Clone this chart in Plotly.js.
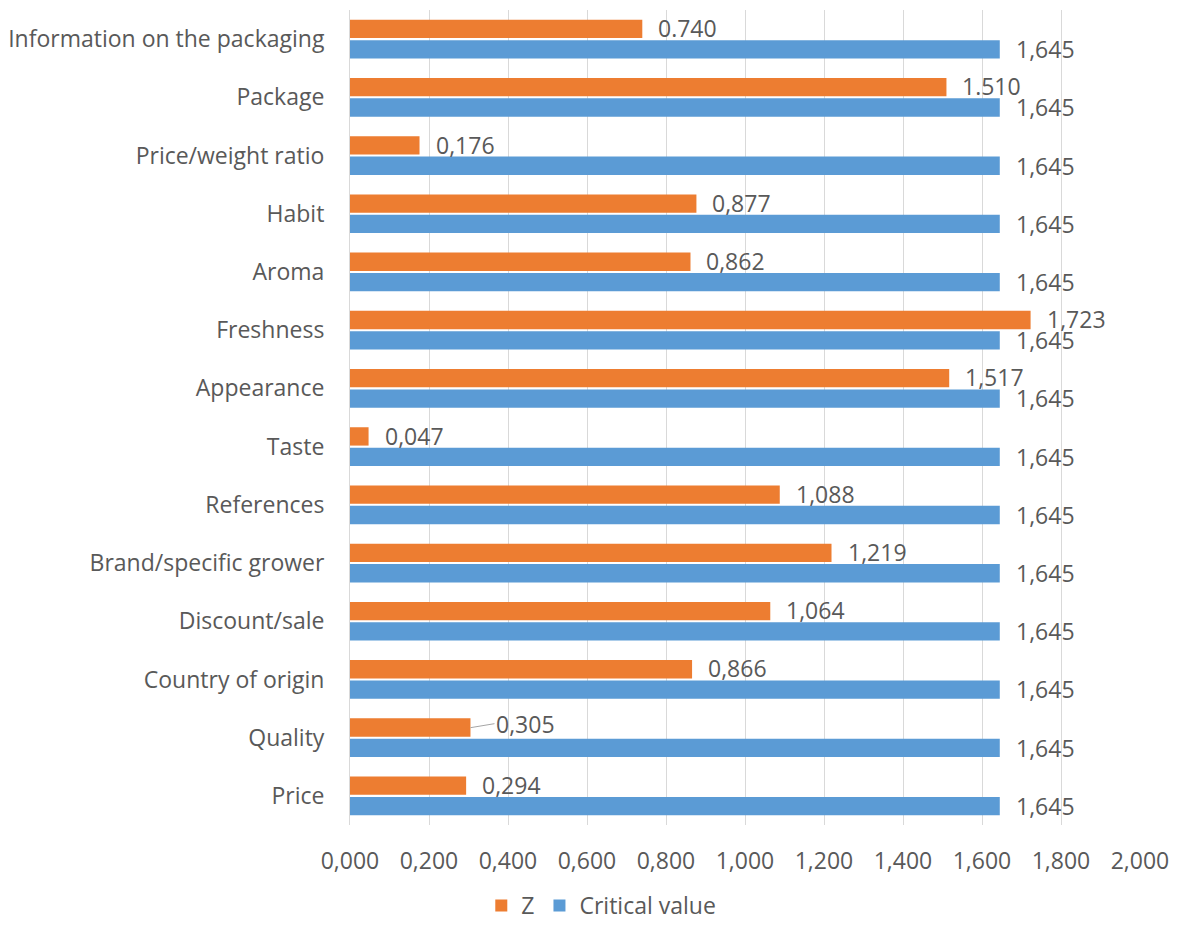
<!DOCTYPE html>
<html>
<head>
<meta charset="utf-8">
<script src="https://cdn.plot.ly/plotly-3.0.1.min.js"></script>
<style>html,body{margin:0;padding:0;background:#fff;}#chart{width:1179px;height:927px;}</style>
</head>
<body>
<div id="chart"></div>
<script>
var categories = ["Information on the packaging","Package","Price/weight ratio","Habit","Aroma","Freshness","Appearance","Taste","References","Brand/specific grower","Discount/sale","Country of origin","Quality","Price"];
var zValues = [0.740,1.510,0.176,0.877,0.862,1.723,1.517,0.047,1.088,1.219,1.064,0.866,0.305,0.294];
var zLabels = ["0.740","1.510","0,176","0,877","0,862","1,723","1,517","0,047","1,088","1,219","1,064","0,866","0,305","0,294"];
var critValues = [1.645,1.645,1.645,1.645,1.645,1.645,1.645,1.645,1.645,1.645,1.645,1.645,1.645,1.645];
var critLabels = ["1,645","1,645","1,645","1,645","1,645","1,645","1,645","1,645","1,645","1,645","1,645","1,645","1,645","1,645"];
var xTickVals = [0,0.2,0.4,0.6,0.8,1.0,1.2,1.4,1.6,1.8,2.0];
var xTickText = ["0,000","0,200","0,400","0,600","0,800","1,000","1,200","1,400","1,600","1,800","2,000"];

var txt = "#595959";
var font = "Open Sans, Segoe UI, sans-serif";

var traces = [
  {type:"bar", orientation:"h", name:"Z", y:categories, x:zValues, marker:{color:"#ED7D31"}, hoverinfo:"x+y"},
  {type:"bar", orientation:"h", name:"Critical value", y:categories, x:critValues, marker:{color:"#5B9BD5"}, hoverinfo:"x+y"}
];

var annotations = [];
categories.forEach(function(c,i){
  if (c === "Quality") {
    annotations.push({x:zValues[i], y:c, xref:"x", yref:"y", text:zLabels[i], showarrow:true,
      arrowhead:0, arrowwidth:1, arrowcolor:"#A6A6A6", ax:24, ay:-4, standoff:0, startstandoff:0,
      xanchor:"left", yanchor:"middle", yshift:10,
      font:{family:font, size:23, color:txt}});
  } else {
    annotations.push({x:zValues[i], y:c, xref:"x", yref:"y", text:zLabels[i], showarrow:false,
      xanchor:"left", yanchor:"middle", xshift:14, yshift:11,
      font:{family:font, size:23, color:txt}});
  }
  annotations.push({x:critValues[i], y:c, xref:"x", yref:"y", text:critLabels[i], showarrow:false,
    xanchor:"left", yanchor:"middle", xshift:14, yshift:-10,
    font:{family:font, size:23, color:txt}});
});

var layout = {
  width:1179, height:927,
  margin:{l:350, r:39, t:10, b:102},
  paper_bgcolor:"#fff", plot_bgcolor:"#fff",
  barmode:"group", bargap:0.3, bargroupgap:0.1,
  font:{family:font, color:txt, size:23},
  xaxis:{range:[0,2.0], tickvals:xTickVals, ticktext:xTickText, showgrid:true, gridcolor:"#D9D9D9", gridwidth:1,
    zeroline:false, showline:false, ticks:"", ticklabelstandoff:20, tickfont:{family:font, size:23, color:txt}, fixedrange:true},
  yaxis:{type:"category", autorange:"reversed", showgrid:false, zeroline:false, showline:true, linecolor:"#D9D9D9", linewidth:1,
    ticks:"", ticklabelstandoff:20, tickfont:{family:font, size:23, color:txt}, fixedrange:true},
  legend:{orientation:"h", xref:"container", yref:"container", x:0.51, xanchor:"center", y:0.0, yanchor:"bottom",
    font:{family:font, size:23, color:txt}, itemwidth:30},
  annotations:annotations,
  showlegend:true
};

Plotly.newPlot("chart", traces, layout, {displayModeBar:false, staticPlot:true});
</script>
</body>
</html>
